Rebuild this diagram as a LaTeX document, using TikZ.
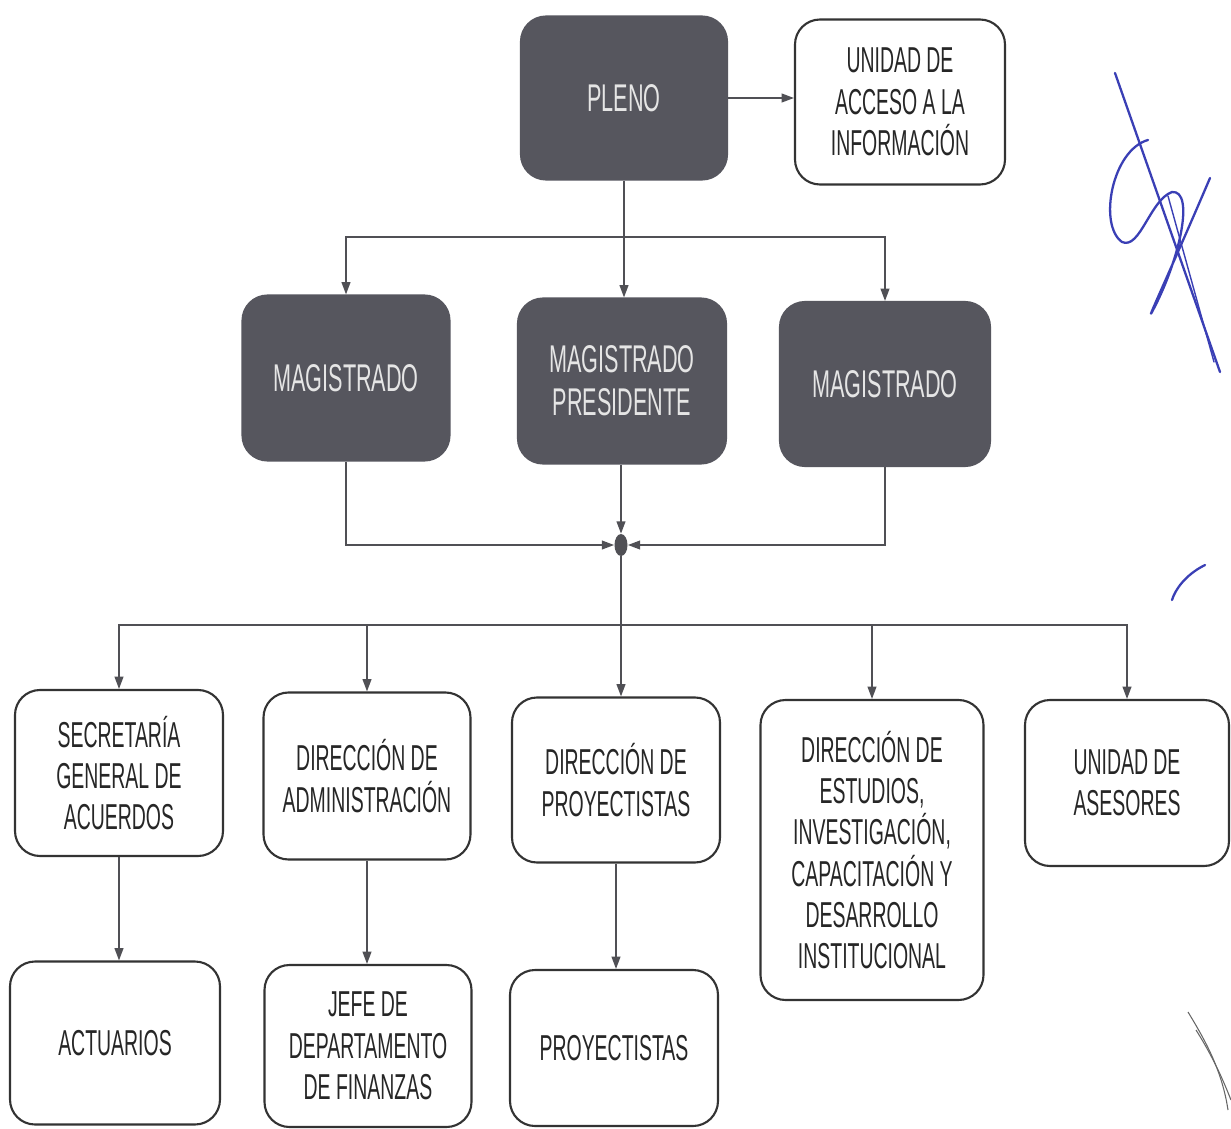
\documentclass[tikz,border=0pt]{standalone}
\usepackage{fontspec}
\setmainfont{Liberation Sans}[FakeStretch=0.54]
\newfontfamily\darkfont{Liberation Sans}[FakeStretch=0.56]
\usetikzlibrary{arrows.meta,shapes.geometric}
\definecolor{darkbox}{HTML}{56565E}
\definecolor{lin}{HTML}{505055}
\definecolor{ink}{HTML}{3A3FB5}
\begin{document}
\begin{tikzpicture}[x=0.02cm,y=-0.02cm,
  box/.style={draw=black!80, line width=1.2pt, rounded corners=0.5cm, align=center, inner sep=0pt,
    font=\fontsize{20.5}{23.5}\selectfont, text=black!85},
  darkb/.style={box, fill=darkbox, draw=darkbox, text=white!90!black,
    font=\darkfont\fontsize{22}{24.5}\selectfont},
  sz/.style 2 args={minimum width=#1*0.02cm, minimum height=#2*0.02cm},
  conn/.style={draw=lin, line width=0.9pt, -{Triangle[length=7pt,width=5pt]}},
  plain/.style={draw=lin, line width=0.9pt},
  sig/.style={draw=ink, line width=1.3pt, line cap=round, line join=round}]
\useasboundingbox[fill=white] (0,0) rectangle (1231,1129);
% top
\node[darkb, sz={206}{163}] (pleno) at (624,98) {PLENO};
\node[box, sz={210}{165}] (uai) at (900,102) {UNIDAD DE\\ACCESO A LA\\INFORMACIÓN};
% magistrados
\node[darkb, sz={207}{165}] (mag1) at (346,378) {MAGISTRADO};
\node[darkb, sz={208}{165}] (magp) at (622,381) {MAGISTRADO\\PRESIDENTE};
\node[darkb, sz={210}{164}] (mag2) at (885,384) {MAGISTRADO};
% junction
\node[ellipse, fill=lin, inner sep=0pt, minimum width=13*0.02cm, minimum height=22*0.02cm] (dot) at (621,545) {};
% second level
\node[box, sz={208}{166}] (sga) at (119,773) {SECRETARÍA\\GENERAL DE\\ACUERDOS};
\node[box, sz={207}{167}] (dadm) at (367,776) {DIRECCIÓN DE\\ADMINISTRACIÓN};
\node[box, sz={208}{165}] (dproy) at (616,780) {DIRECCIÓN DE\\PROYECTISTAS};
\node[box, sz={223}{300}] (dest) at (872,850) {DIRECCIÓN DE\\ESTUDIOS,\\INVESTIGACIÓN,\\CAPACITACIÓN Y\\DESARROLLO\\INSTITUCIONAL};
\node[box, sz={204}{166}] (uase) at (1127,783) {UNIDAD DE\\ASESORES};
% third level
\node[box, sz={210}{163}] (act) at (115,1043) {ACTUARIOS};
\node[box, sz={207}{162}] (jefe) at (368,1046) {JEFE DE\\DEPARTAMENTO\\DE FINANZAS};
\node[box, sz={208}{156}] (proy) at (614,1048) {PROYECTISTAS};
% connectors top
\draw[conn] (pleno.east) -- (pleno.east -| uai.west);
\coordinate (j1) at (624,237);
\draw[plain] (pleno.south) -- (j1);
\draw[conn] (j1) -| (mag1.north);
\draw[conn] (j1) -- (j1 |- magp.north);
\draw[conn] (j1) -| (mag2.north);
% into junction
\draw[conn] (mag1.south) |- (dot.west);
\draw[conn] (mag2.south) |- (dot.east);
\draw[conn] (dot.north |- magp.south) -- (dot.north);
% out of junction
\coordinate (j2) at (621,625);
\draw[plain] (dot.south) -- (j2);
\draw[conn] (j2) -| (sga.north);
\draw[conn] (j2) -| (dadm.north);
\draw[conn] (j2) -- (j2 |- dproy.north);
\draw[conn] (j2) -| (dest.north);
\draw[conn] (j2) -| (uase.north);
% third level connectors
\draw[conn] (sga.south) -- (sga.south |- act.north);
\draw[conn] (dadm.south) -- (dadm.south |- jefe.north);
\draw[conn] (dproy.south) -- (dproy.south |- proy.north);
% handwritten marks
\draw[sig] (1115,73) -- (1220,372);
\draw[sig, line width=0.8pt] (1168,196) -- (1214,362);
\draw[sig] (1148,140) .. controls (1112,150) and (1098,225) .. (1122,242)
  .. controls (1140,250) and (1150,200) .. (1172,192)
  .. controls (1195,190) and (1180,260) .. (1152,312)
  .. controls (1145,325) and (1175,260) .. (1210,178);
\draw[sig] (1205,565) .. controls (1185,575) and (1175,590) .. (1172,600);
\draw[draw=black!60, line width=0.6pt] (1188,1012) .. controls (1205,1040) and (1222,1070) .. (1228,1110);
\draw[draw=black!60, line width=0.6pt] (1196,1030) .. controls (1215,1060) and (1225,1085) .. (1231,1100);
\end{tikzpicture}
\end{document}
